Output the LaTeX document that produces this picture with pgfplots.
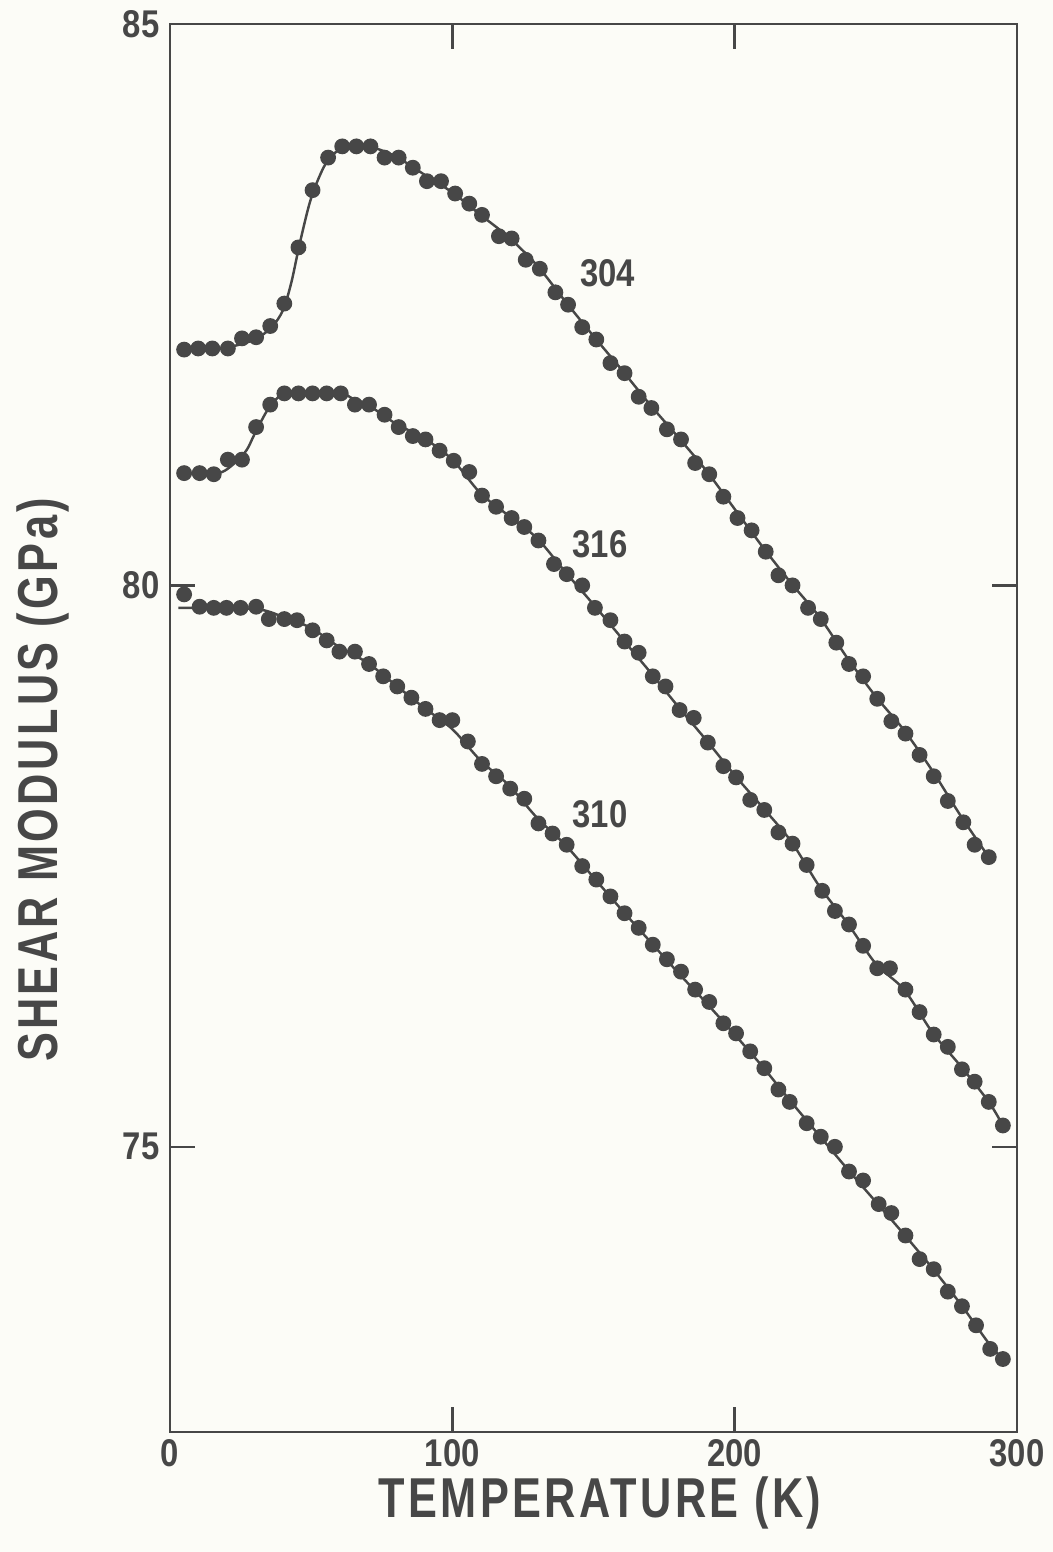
\documentclass[border=0pt]{standalone}
\usepackage{fontspec}
\setmainfont{Liberation Sans}[FakeStretch=0.77, LetterSpace=6, UprightFont=*-Bold]
\newfontfamily\numfont{Liberation Sans}[FakeStretch=0.85, UprightFont=*-Bold]
\usepackage{pgfplots}
\pgfplotsset{compat=1.18}
\usepackage{pgfplotstable}
\definecolor{ink}{HTML}{474747}
\definecolor{paper}{HTML}{FCFCF7}

\pgfplotstableread{
T G
5 82.10
10 82.11
15 82.11
20.5 82.11
25.5 82.20
30.5 82.21
35.5 82.31
40.5 82.51
45.5 83.01
50.5 83.52
56 83.81
61 83.91
66 83.91
71 83.91
76 83.81
81 83.81
86 83.72
91 83.60
96 83.60
101 83.49
106 83.40
110.5 83.30
116.5 83.11
121 83.09
126 82.90
131 82.82
136.5 82.61
141 82.50
146 82.30
151 82.19
156 81.98
161 81.89
166 81.68
170.5 81.58
176 81.39
181 81.30
186 81.09
191 80.99
196 80.79
201 80.60
206 80.49
211 80.30
215.5 80.09
220.5 80.00
226 79.80
230.5 79.70
236 79.49
240.5 79.30
245.5 79.19
250.5 78.99
255.5 78.79
260.5 78.68
265.5 78.49
270.5 78.30
275.5 78.08
281 77.89
285 77.69
290 77.58
}\dataA

\pgfplotstableread{
T G
5 82.10
20 82.12
30 82.19
36 82.30
40 82.45
43 82.70
46 83.05
50 83.45
55 83.75
60 83.88
67 83.92
72 83.90
80 83.82
90 83.66
100 83.50
110 83.30
120 83.10
130 82.85
140 82.53
150 82.22
160 81.92
170 81.61
180 81.32
190 81.02
200 80.68
210 80.34
220 80.02
230 79.72
240 79.35
250 79.01
260 78.71
270 78.35
280 77.95
290 77.58
}\fitA

\pgfplotstableread{
T G
5 81.00
10.5 81.00
15.5 80.99
20.5 81.12
25.5 81.12
30.5 81.41
35.5 81.61
40.5 81.71
45.5 81.71
50.5 81.71
55.5 81.71
60.5 81.71
65.5 81.61
70.5 81.61
76 81.52
81 81.41
86 81.33
90.5 81.30
95.5 81.20
100.5 81.11
106 81.01
110.5 80.80
115.5 80.70
121 80.60
125.5 80.52
130.5 80.40
136 80.19
140.5 80.10
146 80.00
150.5 79.80
156 79.69
161 79.50
166 79.40
171 79.19
175.5 79.10
180.5 78.89
185.5 78.82
190.5 78.60
196 78.39
200.5 78.29
205.5 78.09
210.5 78.00
215.5 77.80
220.5 77.70
225.5 77.51
231 77.28
235.5 77.10
240.5 76.98
245.5 76.79
250.5 76.59
255 76.59
260.5 76.40
265.5 76.20
270.5 76.00
275.5 75.89
280.5 75.69
285 75.58
290 75.40
295 75.19
}\dataB

\pgfplotstableread{
T G
5 81.00
17 81.00
22 81.07
27 81.20
30 81.35
35 81.58
40 81.70
50 81.72
60 81.72
65 81.66
70 81.61
80 81.44
90 81.31
100 81.12
110 80.82
120 80.62
130 80.42
140 80.12
150 79.83
160 79.53
170 79.23
180 78.92
190 78.62
200 78.31
210 78.02
220 77.72
230 77.32
240 76.99
250 76.63
260 76.40
270 76.02
280 75.72
290 75.40
295 75.19
}\fitB

\pgfplotstableread{
T G
5 79.92
10.5 79.81
15.5 79.80
20 79.80
25 79.80
30.5 79.81
35 79.70
40.5 79.70
45 79.69
50.5 79.60
55.5 79.51
60 79.41
65.5 79.41
70.5 79.30
75.5 79.19
80.5 79.10
85.5 79.00
90.5 78.90
95.5 78.80
100 78.80
105.5 78.61
110.5 78.41
115.5 78.30
120.5 78.19
125.5 78.10
130.5 77.88
135.5 77.79
140.5 77.69
146 77.50
151 77.38
156 77.23
161 77.08
166 76.95
171 76.80
176 76.67
181 76.56
186 76.40
191 76.29
196 76.10
200.5 76.01
205.5 75.85
210.5 75.70
215.5 75.51
219.5 75.40
225.5 75.21
230.5 75.09
235.5 75.00
240.5 74.78
245.5 74.70
251 74.49
255.5 74.41
260.5 74.21
265.5 74.00
270.5 73.91
275.5 73.71
280.5 73.58
285.5 73.41
290.5 73.20
295 73.11
}\dataC

\pgfplotstableread{
T G
3 79.80
30 79.79
40 79.72
50 79.62
60 79.45
70 79.31
80 79.11
90 78.91
100 78.72
110 78.44
120 78.22
130 77.93
140 77.69
150 77.40
160 77.11
170 76.83
180 76.55
190 76.28
200 76.00
210 75.71
220 75.40
230 75.10
240 74.80
250 74.51
260 74.22
270 73.92
280 73.60
290 73.25
295 73.11
}\fitC

\begin{document}
\begin{tikzpicture}
\path[fill=paper, use as bounding box] (-17mm,-12mm) rectangle (88.3mm,143.2mm);
\begin{axis}[
  at={(0,0)}, anchor=south west,
  scale only axis, width=84.7mm, height=140.8mm,
  xmin=0, xmax=300, ymin=72.46, ymax=85,
  xtick={0,100,200,300}, ytick={75,80,85},
  tick align=inside, major tick length=2.5mm,
  axis line style={ink, line width=0.7pt},
  every tick/.style={ink, line width=0.7pt},
  tick label style={font=\numfont\fontsize{11}{13}\selectfont, text=ink},
  /pgf/number format/assume math mode=true,
  xticklabel style={anchor=base, inner sep=0pt, yshift=-3.5mm},
  yticklabel style={anchor=east, inner sep=0pt, xshift=-1mm},
  clip=false,
]
\addplot[ink, line width=0.7pt, smooth, no marks] table[x=T,y=G] {\fitA};
\addplot[ink, line width=0.7pt, smooth, no marks] table[x=T,y=G] {\fitB};
\addplot[ink, line width=0.7pt, smooth, no marks] table[x=T,y=G] {\fitC};
\addplot[only marks, mark=*, mark size=0.72mm, mark options={fill=ink, draw=ink}] table[x=T,y=G] {\dataA};
\addplot[only marks, mark=*, mark size=0.72mm, mark options={fill=ink, draw=ink}] table[x=T,y=G] {\dataB};
\addplot[only marks, mark=*, mark size=0.72mm, mark options={fill=ink, draw=ink}] table[x=T,y=G] {\dataC};
\node[font=\numfont\fontsize{11}{13}\selectfont, text=ink] at (axis cs:155,82.78) {304};
\node[font=\numfont\fontsize{11}{13}\selectfont, text=ink] at (axis cs:152.3,80.37) {316};
\node[font=\numfont\fontsize{11}{13}\selectfont, text=ink] at (axis cs:152.3,77.96) {310};
\end{axis}
\node[font=\fontsize{16}{19}\selectfont, text=ink, anchor=base] at (43mm,-8.5mm) {TEMPERATURE (K)};
\node[font=\fontsize{16}{19}\selectfont, text=ink, rotate=90, anchor=base] at (-11.2mm,65.2mm) {SHEAR MODULUS (GPa)};
\end{tikzpicture}
\end{document}
